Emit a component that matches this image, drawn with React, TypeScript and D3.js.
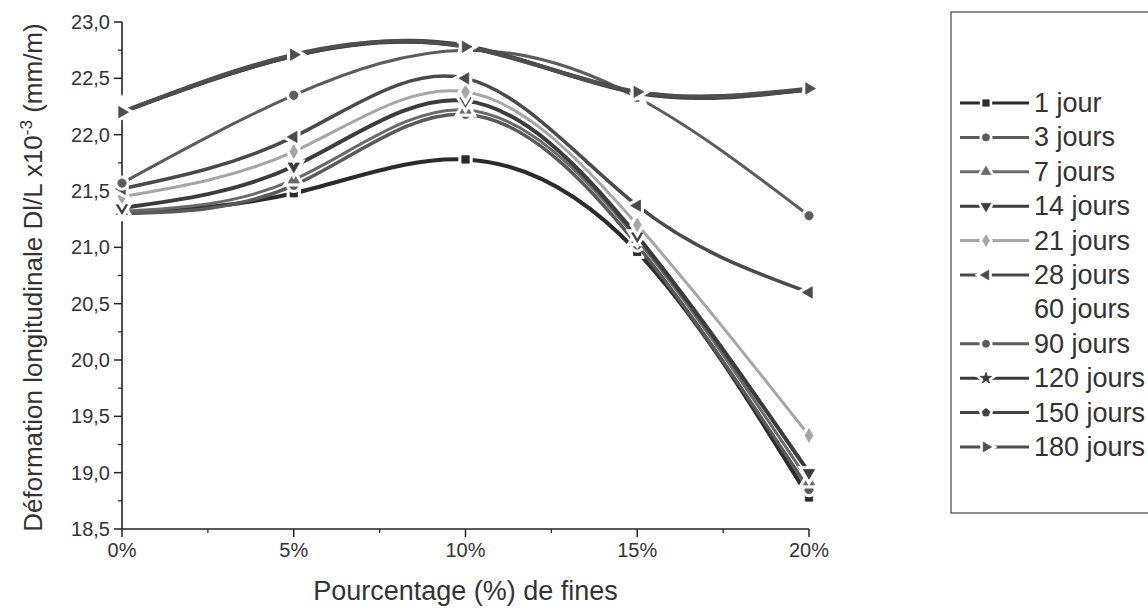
import React from "react";
import * as d3 from "d3";

// values (Dl/L x10^-3, mm/m)
const fines = [0, 5, 10, 15, 20];
const xTickLabels = ["0%", "5%", "10%", "15%", "20%"];
const yTicks = [18.5, 19.0, 19.5, 20.0, 20.5, 21.0, 21.5, 22.0, 22.5, 23.0];

const jour1 = [21.3, 21.48, 21.78, 20.96, 18.78];
const jours3 = [21.3, 21.55, 22.18, 21.02, 18.85];
const jours7 = [21.32, 21.6, 22.22, 21.07, 18.92];
const jours14 = [21.35, 21.72, 22.3, 21.1, 19.0];
const jours21 = [21.45, 21.85, 22.38, 21.2, 19.33];
const jours28 = [21.52, 21.98, 22.5, 21.37, 20.6];
const jours90 = [21.57, 22.35, 22.75, 22.33, 21.28];
const jours120 = [22.2, 22.7, 22.78, 22.38, 22.4];
const jours150 = [22.2, 22.7, 22.79, 22.37, 22.4];
const jours180 = [22.2, 22.71, 22.78, 22.38, 22.41];

const pentagon = {
  draw(ctx: any, size: number) {
    const r = Math.sqrt(size / 2.4);
    for (let i = 0; i < 5; i++) {
      const a = -Math.PI / 2 + (i * 2 * Math.PI) / 5;
      if (i === 0) ctx.moveTo(r * Math.cos(a), r * Math.sin(a));
      else ctx.lineTo(r * Math.cos(a), r * Math.sin(a));
    }
    ctx.closePath();
  },
};

const series = [
  { name: "1 jour", values: jour1, sym: d3.symbolSquare, rot: 0, color: "#2b2b2b", w: 4 },
  { name: "3 jours", values: jours3, sym: d3.symbolCircle, rot: 0, color: "#5a5a5a", w: 3.5 },
  { name: "7 jours", values: jours7, sym: d3.symbolTriangle, rot: 0, color: "#6a6a6a", w: 3 },
  { name: "14 jours", values: jours14, sym: d3.symbolTriangle, rot: 180, color: "#3c3c3c", w: 4 },
  { name: "21 jours", values: jours21, sym: d3.symbolDiamond, rot: 0, color: "#a6a6a6", w: 3 },
  { name: "28 jours", values: jours28, sym: d3.symbolTriangle, rot: -90, color: "#4a4a4a", w: 3.5 },
  { name: "60 jours", values: null, sym: null, rot: 0, color: "none", w: 0 },
  { name: "90 jours", values: jours90, sym: d3.symbolCircle, rot: 0, color: "#5c5c5c", w: 3 },
  { name: "120 jours", values: jours120, sym: d3.symbolStar, rot: 0, color: "#3a3a3a", w: 4 },
  { name: "150 jours", values: jours150, sym: pentagon, rot: 0, color: "#444444", w: 4 },
  { name: "180 jours", values: jours180, sym: d3.symbolTriangle, rot: 90, color: "#4e4e4e", w: 4 },
];

const left = 122;
const right = 809;
const top = 22;
const bottom = 529;

const fmt = (v: number) => d3.format(".1f")(v).replace(".", ",");

export default function App() {
  const x = d3.scaleLinear().domain([0, 20]).range([left, right]);
  const y = d3.scaleLinear().domain([18.5, 23.0]).range([bottom, top]);

  const line = d3
    .line<number>()
    .x((_, i) => x(fines[i]))
    .y((d) => y(d))
    .curve(d3.curveNatural);

  const minorY = d3.range(18.75, 23, 0.5);
  const minorX = d3.range(2.5, 20, 5);

  const font = "'Liberation Sans', Arial, sans-serif";
  const legY0 = 103;
  const legStep = 34.4;

  const marker = (s: any, cx: number, cy: number, key: string, size = 55, halo = 7) => {
    const p = d3.symbol().type(s.sym).size(size)() as string;
    const tr = `translate(${cx},${cy}) rotate(${s.rot})`;
    return (
      <g key={key}>
        <path d={p} transform={tr} fill="#fff" stroke="#fff" strokeWidth={halo} />
        <path d={p} transform={tr} fill={s.color} stroke={s.color} strokeWidth={0.8} />
      </g>
    );
  };

  return (
    <svg
      width={1148}
      height={615}
      style={{ position: "absolute", left: 0, top: 0, background: "#fff" }}
      fontFamily={font}
    >
      {/* axes */}
      <line x1={left} x2={left} y1={top} y2={bottom} stroke="#222" strokeWidth={1.6} />
      <line x1={left} x2={right} y1={bottom} y2={bottom} stroke="#222" strokeWidth={1.6} />
      {yTicks.map((t) => (
        <g key={"y" + t}>
          <line x1={left - 8} x2={left} y1={y(t)} y2={y(t)} stroke="#222" strokeWidth={1.5} />
          <text x={left - 12} y={y(t) + 7} textAnchor="end" fontSize={20} fill="#333">
            {fmt(t)}
          </text>
        </g>
      ))}
      {minorY.map((t) => (
        <line key={"my" + t} x1={left - 4} x2={left} y1={y(t)} y2={y(t)} stroke="#222" strokeWidth={1.2} />
      ))}
      {fines.map((f, i) => (
        <g key={"x" + f}>
          <line x1={x(f)} x2={x(f)} y1={bottom} y2={bottom + 8} stroke="#222" strokeWidth={1.5} />
          <text x={x(f)} y={bottom + 28} textAnchor="middle" fontSize={20} fill="#333">
            {xTickLabels[i]}
          </text>
        </g>
      ))}
      {minorX.map((t) => (
        <line key={"mx" + t} x1={x(t)} x2={x(t)} y1={bottom} y2={bottom + 4} stroke="#222" strokeWidth={1.2} />
      ))}
      <text x={(left + right) / 2} y={600} textAnchor="middle" fontSize={27} fill="#333">
        Pourcentage (%) de fines
      </text>
      <text
        transform={`translate(42,${(top + bottom) / 2 + 2}) rotate(-90)`}
        textAnchor="middle"
        fontSize={26}
        fill="#333"
      >
        Déformation longitudinale Dl/L x10
        <tspan dy={-10} fontSize={17}>-3</tspan>
        <tspan dy={10}> (mm/m)</tspan>
      </text>

      {/* curves */}
      {series.map((s) =>
        s.values ? (
          <g key={s.name}>
            <path d={line(s.values) as string} fill="none" stroke={s.color} strokeWidth={s.w} />
            {s.values.map((v, i) => marker(s, x(fines[i]), y(v), s.name + i))}
          </g>
        ) : null
      )}

      {/* legend */}
      <rect x={951} y={12} width={220} height={501} fill="#fff" stroke="#444" strokeWidth={1.2} />
      {series.map((s, i) => {
        const ly = legY0 + i * legStep;
        return (
          <g key={"leg" + s.name}>
            {s.values ? (
              <>
                <line x1={960} x2={1029} y1={ly} y2={ly} stroke={s.color} strokeWidth={3} />
                {marker(s, 986, ly, "lm" + i, 40, 6)}
              </>
            ) : null}
            <text x={1034} y={ly + 9} fontSize={27} fill="#333">
              {s.name}
            </text>
          </g>
        );
      })}
    </svg>
  );
}
